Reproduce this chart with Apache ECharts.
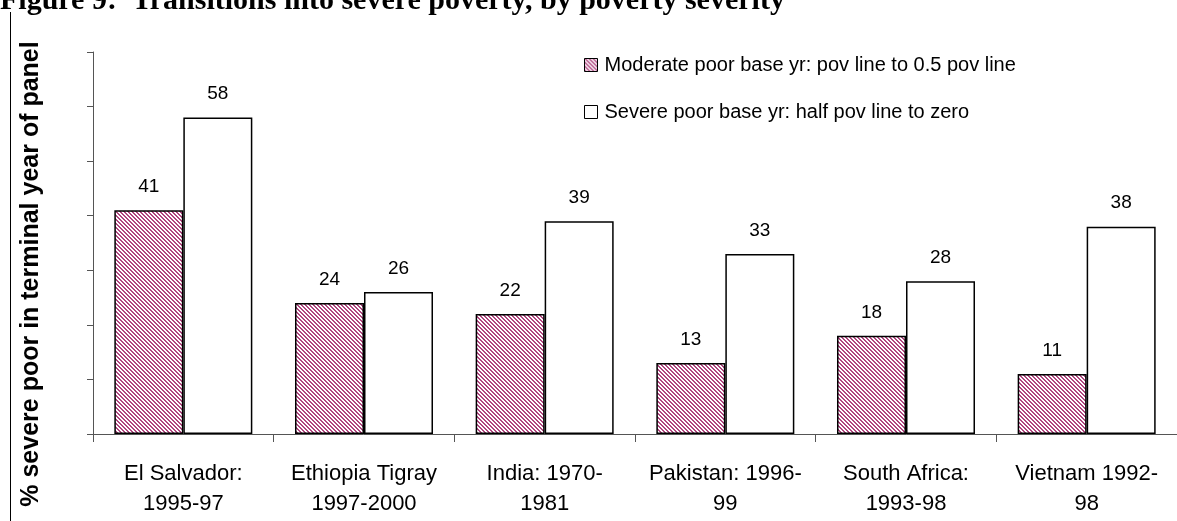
<!DOCTYPE html>
<html>
<head>
<meta charset="utf-8">
<script src="https://cdn.jsdelivr.net/npm/echarts@6/dist/echarts.min.js"></script>
<style>
  html, body { margin: 0; padding: 0; background: #fff; }
  #chart { width: 1177px; height: 521px; }
</style>
</head>
<body>
<div id="chart"></div>
<script>
// categories and values
const countries = [
  'El Salvador:\n1995-97',
  'Ethiopia Tigray\n1997-2000',
  'India: 1970-\n1981',
  'Pakistan: 1996-\n99',
  'South Africa:\n1993-98',
  'Vietnam 1992-\n98'
];
const moderatePoor = [41, 24, 22, 13, 18, 11];
const severePoor = [58, 26, 39, 33, 28, 38];
const seriesNames = [
  'Moderate poor base yr: pov line to 0.5 pov line',
  'Severe poor base yr: half pov line to zero'
];

// diagonal hatch like the excel fill
function makeHatch(color) {
  const c = document.createElement('canvas');
  c.width = 4;
  c.height = 4;
  const ctx = c.getContext('2d');
  ctx.fillStyle = '#fff';
  ctx.fillRect(0, 0, 4, 4);
  ctx.fillStyle = color;
  for (let x = 0; x < 4; x++) {
    for (let y = 0; y < 4; y++) {
      if ((((x - y) % 4) + 4) % 4 < 2) ctx.fillRect(x, y, 1, 1);
    }
  }
  return c;
}

const chart = echarts.init(document.getElementById('chart'));

const labelStyle = {
  show: true,
  position: 'top',
  distance: 14,
  color: '#000',
  fontFamily: 'Liberation Sans',
  fontSize: 19
};

const option = {
  animation: false,
  backgroundColor: '#fff',
  grid: { left: 93, right: -16, top: 52, bottom: 87 },
  legend: {
    orient: 'vertical',
    left: 584,
    top: 55,
    padding: 0,
    icon: 'rect',
    itemWidth: 13,
    itemHeight: 13,
    itemGap: 27,
    itemStyle: { borderWidth: 1, borderColor: '#000' },
    textStyle: { fontFamily: 'Liberation Sans', fontSize: 20, color: '#000', padding: [0, 0, 0, 2] },
    data: seriesNames
  },
  xAxis: {
    type: 'category',
    data: countries,
    axisLine: { lineStyle: { color: '#555', width: 1 } },
    axisTick: { show: true, length: 8, lineStyle: { color: '#555' } },
    axisLabel: {
      interval: 0,
      margin: 25,
      color: '#000',
      fontFamily: 'Liberation Sans',
      fontSize: 22,
      lineHeight: 30
    }
  },
  yAxis: {
    type: 'value',
    min: 0,
    max: 70,
    interval: 10,
    axisLine: { show: true, lineStyle: { color: '#555', width: 1 } },
    axisTick: { show: true, length: 6, lineStyle: { color: '#555' } },
    axisLabel: { show: false },
    splitLine: { show: false }
  },
  graphic: [
    {
      type: 'text',
      left: 0,
      top: -14,
      style: {
        text: 'Figure 9:  Transitions into severe poverty, by poverty severity',
        font: 'bold 30px "Liberation Serif"',
        fill: '#000'
      }
    },
    {
      type: 'line',
      shape: { x1: 10.5, y1: 12, x2: 10.5, y2: 521 },
      style: { stroke: '#000', lineWidth: 1 }
    },
    {
      type: 'text',
      x: 31,
      y: 274,
      rotation: Math.PI / 2,
      style: {
        text: '% severe poor in terminal year of panel',
        font: 'bold 25px "Liberation Sans"',
        fill: '#000',
        align: 'center',
        verticalAlign: 'middle'
      }
    }
  ],
  series: [
    {
      name: seriesNames[0],
      type: 'bar',
      data: moderatePoor,
      barWidth: 69,
      barGap: '0%',
      itemStyle: {
        color: { image: makeHatch('#b0457f'), repeat: 'repeat' },
        borderColor: '#000',
        borderWidth: 1.5
      },
      label: labelStyle
    },
    {
      name: seriesNames[1],
      type: 'bar',
      data: severePoor,
      barWidth: 69,
      barGap: '0%',
      itemStyle: {
        color: '#fff',
        borderColor: '#000',
        borderWidth: 1.5
      },
      label: labelStyle
    }
  ]
};

chart.setOption(option);
</script>
</body>
</html>
